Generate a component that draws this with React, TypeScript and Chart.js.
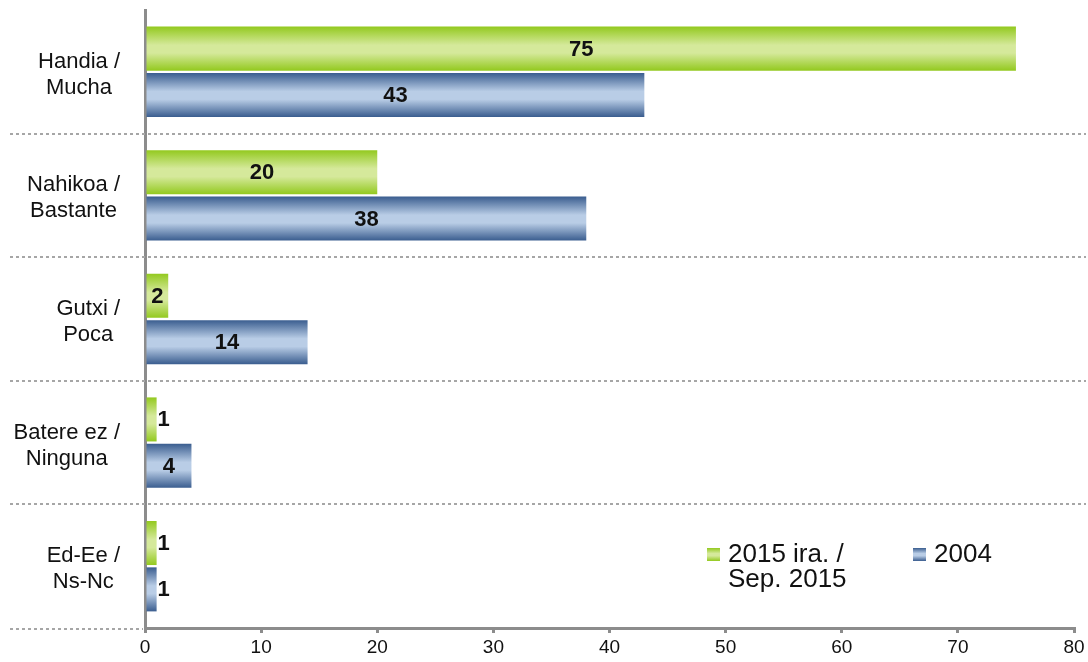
import React, { useEffect, useRef } from "react";
import { Chart, registerables } from "chart.js";

Chart.register(...registerables);

const categories: string[][] = [
  ["Handia /", "Mucha"],
  ["Nahikoa /", "Bastante"],
  ["Gutxi /", "Poca"],
  ["Batere ez /", "Ninguna"],
  ["Ed-Ee /", "Ns-Nc"],
];
const series2015 = [75, 20, 2, 1, 1];
const series2004 = [43, 38, 14, 4, 1];
const legend2015 = ["2015 ira. /", "Sep. 2015"];
const legend2004 = ["2004"];
const xMin = 0;
const xMax = 80;
const xStep = 10;

const FONT = "'Liberation Sans', Arial, sans-serif";
const GREEN = { edge: "#93c91f", light: "#d5e99b" };
const BLUE = { edge: "#3a5d8f", light: "#b9cde6" };
const palettes = [GREEN, BLUE];

function makeGrad(ctx: CanvasRenderingContext2D, top: number, bottom: number, p: { edge: string; light: string }) {
  const g = ctx.createLinearGradient(0, top, 0, bottom);
  g.addColorStop(0, p.edge);
  g.addColorStop(0.42, p.light);
  g.addColorStop(0.6, p.light);
  g.addColorStop(1, p.edge);
  return g;
}

const separatorsPlugin = {
  id: "separators",
  beforeDatasetsDraw(chart: any) {
    const ctx = chart.ctx as CanvasRenderingContext2D;
    const ys = chart.scales.y;
    const ca = chart.chartArea;
    const n = categories.length;
    ctx.save();
    ctx.strokeStyle = "#a6a6a6";
    ctx.lineWidth = 2;
    ctx.setLineDash([3, 3]);
    for (let i = 0; i < n; i++) {
      const y =
        i < n - 1
          ? Math.round((ys.getPixelForValue(i) + ys.getPixelForValue(i + 1)) / 2)
          : Math.round(ca.bottom + 1);
      const xEnd = i < n - 1 ? chart.width - 2 : ca.left - 2;
      ctx.beginPath();
      ctx.moveTo(10, y);
      ctx.lineTo(xEnd, y);
      ctx.stroke();
    }
    ctx.restore();
  },
};

const gradientPlugin = {
  id: "barGradient",
  beforeDatasetsDraw(chart: any) {
    const ctx = chart.ctx as CanvasRenderingContext2D;
    chart.data.datasets.forEach((_ds: any, di: number) => {
      const meta = chart.getDatasetMeta(di);
      meta.data.forEach((el: any) => {
        const top = el.y - el.height / 2;
        const bottom = el.y + el.height / 2;
        try {
          el.options.backgroundColor = makeGrad(ctx, top, bottom, palettes[di]);
        } catch (e) {
          /* ignore */
        }
      });
    });
  },
};

const valueLabelsPlugin = {
  id: "valueLabels",
  afterDatasetsDraw(chart: any) {
    const ctx = chart.ctx as CanvasRenderingContext2D;
    ctx.save();
    ctx.font = `bold 22px ${FONT}`;
    ctx.fillStyle = "#111";
    ctx.textAlign = "center";
    ctx.textBaseline = "middle";
    chart.data.datasets.forEach((ds: any, di: number) => {
      const meta = chart.getDatasetMeta(di);
      meta.data.forEach((el: any, i: number) => {
        const text = String(ds.data[i]);
        const tw = ctx.measureText(text).width;
        const barW = el.x - el.base;
        let x = (el.x + el.base) / 2;
        if (tw > barW - 4) x = el.x + tw / 2 + 1;
        ctx.fillText(text, x, el.y + 1);
      });
    });
    ctx.restore();
  },
};

const yLabelsPlugin = {
  id: "yLabels",
  afterDraw(chart: any) {
    const ctx = chart.ctx as CanvasRenderingContext2D;
    const ys = chart.scales.y;
    ctx.save();
    ctx.font = `22px ${FONT}`;
    ctx.fillStyle = "#111";
    ctx.textAlign = "center";
    ctx.textBaseline = "middle";
    const lh = 26;
    categories.forEach((lines, i) => {
      const cy = ys.getPixelForValue(i) + 3;
      const start = cy - ((lines.length - 1) * lh) / 2;
      const maxW = Math.max(...lines.map((l) => ctx.measureText(l).width));
      const cx = 120 - maxW / 2;
      lines.forEach((ln, k) => ctx.fillText(ln, cx, start + k * lh));
    });
    ctx.restore();
  },
};

const legendPlugin = {
  id: "customLegend",
  afterDraw(chart: any) {
    const ctx = chart.ctx as CanvasRenderingContext2D;
    const ca = chart.chartArea;
    const items = [
      { lines: legend2015, pal: GREEN, x: ca.left + 562 },
      { lines: legend2004, pal: BLUE, x: ca.left + 768 },
    ];
    const sqTop = ca.bottom - 80;
    const sq = 13;
    const base1 = ca.bottom - 66;
    const lh = 25;
    ctx.save();
    ctx.font = `26px ${FONT}`;
    ctx.textAlign = "left";
    ctx.textBaseline = "alphabetic";
    items.forEach((it) => {
      ctx.fillStyle = makeGrad(ctx, sqTop, sqTop + sq, it.pal);
      ctx.fillRect(it.x, sqTop, sq, sq);
      ctx.fillStyle = "#111";
      it.lines.forEach((ln, k) => ctx.fillText(ln, it.x + 21, base1 + k * lh));
    });
    ctx.restore();
  },
};

export default function App() {
  const ref = useRef<HTMLCanvasElement | null>(null);
  useEffect(() => {
    if (!ref.current) return;
    const chart = new Chart(ref.current, {
      type: "bar",
      data: {
        labels: categories,
        datasets: [
          {
            label: legend2015.join(" "),
            data: series2015,
            backgroundColor: () => GREEN.edge,
            borderWidth: 0,
            categoryPercentage: 0.75,
            barPercentage: 0.95,
          },
          {
            label: legend2004.join(" "),
            data: series2004,
            backgroundColor: () => BLUE.edge,
            borderWidth: 0,
            categoryPercentage: 0.75,
            barPercentage: 0.95,
          },
        ],
      },
      options: {
        indexAxis: "y",
        animation: false,
        responsive: true,
        maintainAspectRatio: false,
        layout: { padding: { top: 10, right: 14, left: 0, bottom: 0 } },
        plugins: {
          legend: { display: false },
          tooltip: { enabled: false },
        },
        scales: {
          x: {
            min: xMin,
            max: xMax,
            ticks: {
              stepSize: xStep,
              color: "#111",
              font: { family: FONT, size: 19 },
              padding: 3,
            },
            grid: {
              drawOnChartArea: false,
              drawTicks: true,
              tickLength: 5,
              color: "#8c8c8c",
              lineWidth: 3,
            },
            border: { display: true, color: "#8c8c8c", width: 3 },
            afterFit: (scale: any) => {
              scale.height = 34;
            },
          },
          y: {
            type: "category",
            ticks: { display: false },
            grid: { display: false, drawTicks: false },
            border: { display: true, color: "#8c8c8c", width: 3 },
            afterFit: (scale: any) => {
              scale.width = 145;
            },
          },
        },
      },
      plugins: [separatorsPlugin, gradientPlugin, valueLabelsPlugin, yLabelsPlugin, legendPlugin],
    } as any);
    return () => chart.destroy();
  }, []);
  return (
    <div style={{ position: "absolute", left: 0, top: 0, width: 1088, height: 662, background: "#fff" }}>
      <canvas ref={ref} />
    </div>
  );
}
